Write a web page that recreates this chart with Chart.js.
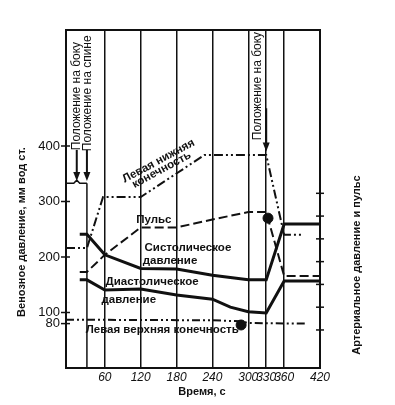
<!DOCTYPE html>
<html><head><meta charset="utf-8">
<script src="https://cdn.jsdelivr.net/npm/chart.js@4/dist/chart.umd.min.js"></script>
<style>html,body{margin:0;padding:0;background:#fff}#wrap{width:395px;height:405px}</style>
</head><body><div id="wrap"><canvas id="c" width="395" height="405"></canvas></div>
<script>
// ---- tick labels ----
const timeTicks = [60, 120, 180, 240, 300, 330, 360, 420];
const venousTicks = [80, 100, 200, 300, 400];
const arterialTicks = [40, 60, 80, 100, 120, 140, 160];

// ---- arterial series (right axis) ----
const tArterial = [18, 30, 60, 120, 180, 240, 270, 300, 330, 360, 420];
const systolic  = [124, 124, 106, 94, 93.5, 88, 86, 84, 84, 133, 133];
const diastolic = [84, 84, 75, 76, 70.7, 67, 60, 56, 55, 83, 83];
const tPulse = [18, 30, 60, 120, 180, 240, 300, 330, 360, 420];
const pulse  = [91, 91, 106, 130, 130, 137, 143.5, 143.5, 87.4, 87.4];

// ---- venous series (left axis, mm H2O) ----
const tLowerLimb = [-5, 30, 57, 120, 227, 330, 360, 392];
const lowerLimb  = [216, 216, 308, 308, 384, 384, 240, 240];
const tUpperLimb = [-5, 240, 290, 300, 395];
const upperLimb  = [87, 86, 84, 81, 80];

// ---- marked points ----
const tMarks = [288, 333];
const marks  = [77.5, 270];

const INK = '#111';
const FAM = "'Liberation Sans', Arial, sans-serif";
const pts = (ts, vs) => ts.map((t, i) => ({x: t, y: vs[i]}));

const notes = [
  {text: 'Пульс', t: 142, v: 267},
  {text: 'Систолическое', t: 199, v: 216},
  {text: 'давление', t: 169, v: 193},
  {text: 'Диастолическое', t: 139, v: 155},
  {text: 'давление', t: 100, v: 122.5},
  {text: 'Левая верхняя конечность', t: 156, v: 68.5},
  {text: 'Левая нижняя', t: 150, v: 373, rot: -28.4},
  {text: 'конечность', t: 155, v: 357, rot: -28.4}
];
const posNotes = [
  {text: 'Положение на боку', t: 13, v: 490, arrowT: 13, from: 393, to: 337},
  {text: 'Положение на спине', t: 31.5, v: 495, arrowT: 30, from: 393, to: 337},
  {text: 'Положение на боку', t: 315, v: 508, arrowT: 330, from: 468, to: 390}
];

const annot = {
  id: 'annot',
  afterDatasetsDraw(chart) {
    const {ctx, chartArea: a, scales: {x, y, y2}} = chart;
    const line = (x1, y1, x2, y2_) => { ctx.beginPath(); ctx.moveTo(x1, y1); ctx.lineTo(x2, y2_); ctx.stroke(); };
    ctx.save();
    ctx.strokeStyle = INK; ctx.fillStyle = INK; ctx.setLineDash([]);
    // frame
    ctx.lineWidth = 2;
    ctx.strokeRect(a.left, a.top, a.right - a.left, a.bottom - a.top);
    // tick marks crossing axes
    ctx.lineWidth = 1.5;
    venousTicks.forEach(v => { const p = y.getPixelForValue(v); line(a.left - 5, p, a.left + 4, p); });
    arterialTicks.forEach(v => { const p = y2.getPixelForValue(v); line(a.right - 4, p, a.right + 4, p); });
    // 30 s line with bracket
    const xb = x.getPixelForValue(30), yb = y.getPixelForValue(333);
    line(xb, yb, xb, a.bottom);
    const xm = x.getPixelForValue(13);
    ctx.beginPath();
    ctx.moveTo(a.left, yb); ctx.lineTo(xm - 3, yb); ctx.lineTo(xm, yb - 3); ctx.lineTo(xm + 3, yb); ctx.lineTo(xb, yb);
    ctx.stroke();
    // arrows + rotated texts
    ctx.font = '12px ' + FAM;
    ctx.textAlign = 'center'; ctx.textBaseline = 'middle';
    posNotes.forEach(n => {
      const ax = x.getPixelForValue(n.arrowT), y1 = y.getPixelForValue(n.from), y2p = y.getPixelForValue(n.to);
      ctx.lineWidth = 2;
      line(ax, y1, ax, y2p - 8);
      ctx.beginPath(); ctx.moveTo(ax - 3.5, y2p - 9); ctx.lineTo(ax + 3.5, y2p - 9); ctx.lineTo(ax, y2p); ctx.closePath(); ctx.fill();
      ctx.save();
      ctx.translate(x.getPixelForValue(n.t), y.getPixelForValue(n.v));
      ctx.rotate(-Math.PI / 2);
      ctx.fillText(n.text, 0, 0);
      ctx.restore();
    });
    // series labels
    ctx.font = 'bold 11.5px ' + FAM;
    notes.forEach(n => {
      ctx.save();
      ctx.translate(x.getPixelForValue(n.t), y.getPixelForValue(n.v));
      if (n.rot) ctx.rotate(n.rot * Math.PI / 180);
      ctx.fillText(n.text, 0, 0);
      ctx.restore();
    });
    // axis titles
    ctx.font = 'bold 11px ' + FAM;
    ctx.save(); ctx.translate(22, 232); ctx.rotate(-Math.PI / 2);
    ctx.fillText('Венозное давление, мм вод ст.', 0, 0); ctx.restore();
    ctx.save(); ctx.translate(357, 265); ctx.rotate(-Math.PI / 2);
    ctx.fillText('Артериальное давление и пульс', 0, 0); ctx.restore();
    ctx.fillText('Время, с', 202, 392);
    ctx.restore();
  }
};

const base = {pointRadius: 0, tension: 0, borderColor: INK, fill: false};
new Chart(document.getElementById('c'), {
  type: 'line',
  data: {datasets: [
    Object.assign({label: 'Систолическое давление', data: pts(tArterial, systolic), yAxisID: 'y2', borderWidth: 3}, base),
    Object.assign({label: 'Диастолическое давление', data: pts(tArterial, diastolic), yAxisID: 'y2', borderWidth: 3}, base),
    Object.assign({label: 'Пульс', data: pts(tPulse, pulse), yAxisID: 'y2', borderWidth: 2, borderDash: [9, 4]}, base),
    Object.assign({label: 'Левая нижняя конечность', data: pts(tLowerLimb, lowerLimb), yAxisID: 'y', borderWidth: 2, borderDash: [9, 3, 2, 3, 2, 3]}, base),
    Object.assign({label: 'Левая верхняя конечность', data: pts(tUpperLimb, upperLimb), yAxisID: 'y', borderWidth: 2, borderDash: [8, 3, 2, 3, 2, 3]}, base),
    {label: 'Отметки', data: pts(tMarks, marks), yAxisID: 'y', showLine: false, pointRadius: 5, pointBackgroundColor: INK, pointBorderColor: INK}
  ]},
  options: {
    responsive: false, animation: false, devicePixelRatio: 1,
    layout: {padding: {top: 30, left: 0, right: 0, bottom: 0}},
    plugins: {legend: {display: false}, tooltip: {enabled: false}},
    scales: {
      x: {
        type: 'linear', min: -5, max: 420,
        afterBuildTicks: s => { s.ticks = timeTicks.map(v => ({value: v})); },
        afterFit: s => { s.height = 37; },
        grid: {color: INK, lineWidth: 1.5, drawTicks: false},
        border: {display: false},
        ticks: {color: INK, font: {family: FAM, size: 12, style: 'italic'}, padding: 2, autoSkip: false, maxRotation: 0, minRotation: 0}
      },
      y: {
        type: 'linear', position: 'left', min: 0, max: 609,
        afterBuildTicks: s => { s.ticks = venousTicks.map(v => ({value: v})); },
        afterFit: s => { s.width = 66; },
        grid: {display: false, drawTicks: false},
        border: {display: false},
        ticks: {color: INK, font: {family: FAM, size: 13}, padding: 6}
      },
      y2: {
        type: 'linear', position: 'right', min: 6.6, max: 303.4,
        afterBuildTicks: s => { s.ticks = arterialTicks.map(v => ({value: v})); },
        afterFit: s => { s.width = 75; },
        grid: {display: false, drawTicks: false},
        border: {display: false},
        ticks: {display: false}
      }
    }
  },
  plugins: [annot]
});
</script></body></html>
